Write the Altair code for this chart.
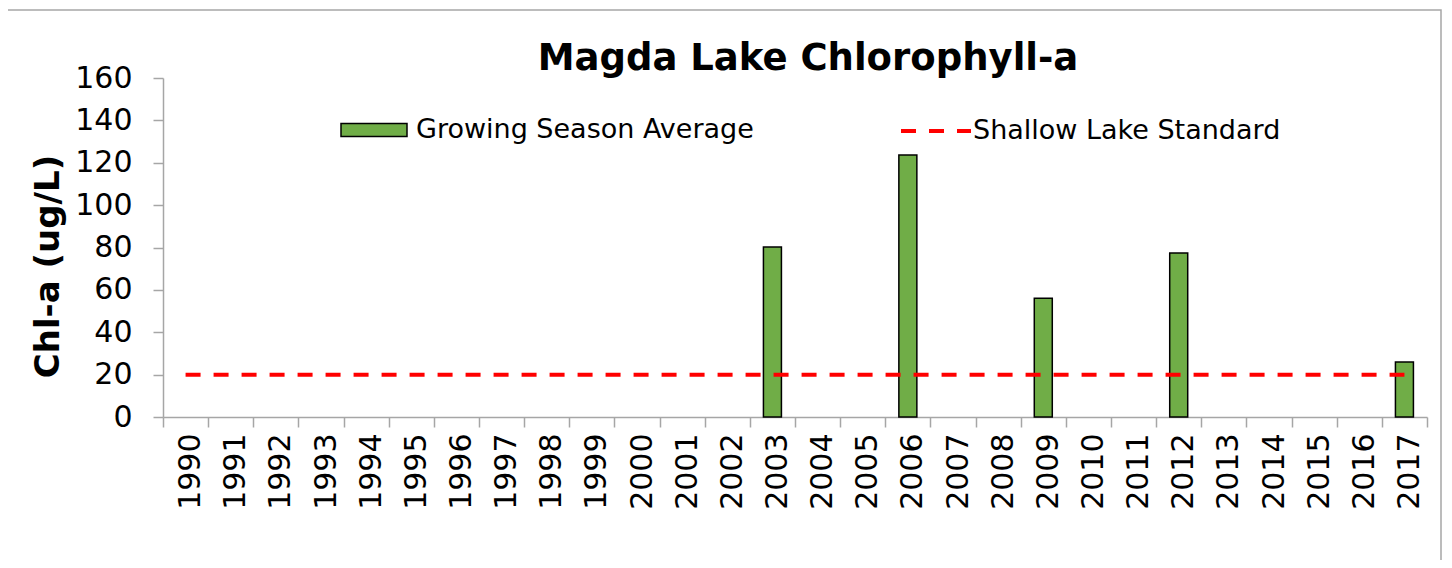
import altair as alt
import pandas as pd

years = [str(y) for y in range(1990, 2018)]
bar_years = ["2003", "2006", "2009", "2012", "2017"]
bar_values = [80.2, 123.6, 56.1, 77.4, 25.9]
std_years = ["1990", "2017"]
std_values = [20, 20]
y_ticks = [0, 20, 40, 60, 80, 100, 120, 140, 160]

FONT = "DejaVu Sans"
GREY = "#A6A6A6"

bars_df = pd.DataFrame({"year": bar_years, "value": bar_values,
                        "series": ["Growing Season Average"] * len(bar_years)})
std_df = pd.DataFrame({"year": std_years, "value": std_values,
                       "series": ["Shallow Lake Standard"] * len(std_years)})

x_enc = alt.X("year:N", scale=alt.Scale(domain=years, paddingInner=0, paddingOuter=0),
              axis=alt.Axis(title=None, labelAngle=270, labelFontSize=30, labelFont=FONT,
                            labelColor="black", domainColor=GREY, tickColor=GREY,
                            tickSize=10, tickBand="extent", labelPadding=6, labelOffset=5,
                            domainWidth=1.5, tickWidth=1.5))
y_enc = alt.Y("value:Q", scale=alt.Scale(domain=[0, 160], nice=False),
              axis=alt.Axis(title="Chl-a (ug/L)", values=y_ticks, grid=False,
                            labelFontSize=30, labelFont=FONT, labelColor="black",
                            domainColor=GREY, tickColor=GREY, tickSize=10,
                            labelPadding=21, domainWidth=1.5, tickWidth=1.5,
                            titleFont=FONT, titleFontSize=34, titleFontWeight="bold",
                            titleColor="black", titleAngle=270, titleX=-115, titleY=188,
                            titleAlign="center", titleBaseline="middle"))

bars = alt.Chart(bars_df).mark_bar(size=18, stroke="black", strokeWidth=1.5).encode(
    x=x_enc, y=y_enc,
    color=alt.Color("series:N",
                    scale=alt.Scale(domain=["Growing Season Average"], range=["#70AD47"]),
                    legend=alt.Legend(title=None, orient="none", legendX=177, legendY=18,
                                      symbolType="M-1,-0.2H1V0.2H-1Z", symbolSize=4356,
                                      symbolStrokeColor="black", symbolStrokeWidth=1.5,
                                      symbolOpacity=1, symbolFillColor="#70AD47",
                                      labelFontSize=27, labelFont=FONT, labelColor="black",
                                      labelOffset=8, labelLimit=0, padding=0)),
)

line = alt.Chart(std_df).mark_line(strokeDash=[15, 13], strokeWidth=4).encode(
    x=alt.X("year:N", scale=alt.Scale(domain=years, paddingInner=0, paddingOuter=0)),
    y=alt.Y("value:Q"),
    color=alt.Color("series:N",
                    scale=alt.Scale(domain=["Shallow Lake Standard"], range=["#FF0000"]),
                    legend=alt.Legend(title=None, orient="none", legendX=736, legendY=16,
                                      symbolType="stroke", symbolSize=4900,
                                      symbolStrokeWidth=4, symbolDash=[15, 13],
                                      labelFontSize=27, labelFont=FONT, labelColor="black",
                                      labelOffset=0, labelLimit=0, padding=0)),
)

border_df = pd.DataFrame({"k": [0]})
border = alt.Chart(border_df).mark_rect(fill=None, stroke="#A6A6A6", strokeWidth=1.5).encode(
    x=alt.value(-157), x2=alt.value(1278), y=alt.value(-68), y2=alt.value(600)
)

chart = alt.layer(border, bars, line).resolve_scale(color="independent").resolve_legend(
    color="independent"
).properties(
    width=1264, height=339, background="white",
    title=alt.TitleParams("Magda Lake Chlorophyll-a", fontSize=37, fontWeight="bold",
                          font=FONT, color="black", anchor="middle", frame="group",
                          baseline="alphabetic", dx=13, dy=98, offset=0),
    autosize=alt.AutoSizeParams(type="none"),
    padding={"left": 155, "top": 70, "right": 17, "bottom": 143},
).configure_view(strokeWidth=0, stroke="transparent")

chart.save("out.html", embed_options={"renderer": "svg", "actions": False})
